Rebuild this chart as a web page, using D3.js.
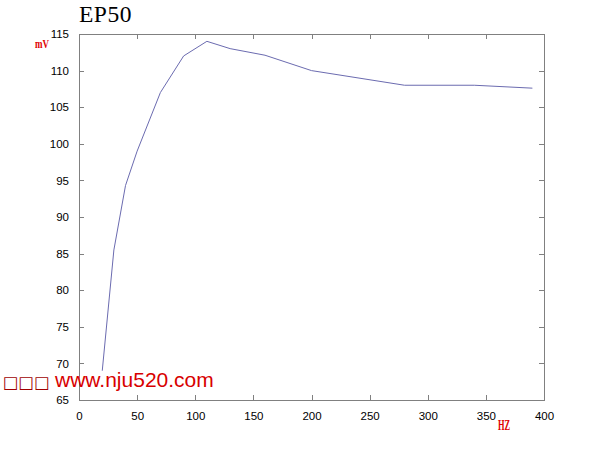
<!DOCTYPE html>
<html><head><meta charset="utf-8">
<script src="https://cdn.jsdelivr.net/npm/d3@7"></script>
<style>body{margin:0;background:#fff}svg{display:block}</style>
</head><body>
<script>
const freqs = [20,30,40,50,70,90,110,130,160,200,280,340,390];
const mv = [69,85.5,94.3,99,107,112,114,113,112.1,110,108,108,107.6];
const xTicks = [0,50,100,150,200,250,300,350,400];
const yTicks = [65,70,75,80,85,90,95,100,105,110,115];

const W=601,H=450;
const svg=d3.select("body").append("svg").attr("width",W).attr("height",H);
const x=d3.scaleLinear().domain([0,400]).range([79,544]);
const y=d3.scaleLinear().domain([65,115]).range([400,34]);
const axCol="#808080";

// frame
svg.append("rect").attr("x",79).attr("y",34).attr("width",465).attr("height",366)
  .attr("fill","none").attr("stroke",axCol).attr("stroke-width",1).attr("shape-rendering","crispEdges");

const tk=5;
const gB=svg.append("g").attr("transform","translate(0,400)")
  .call(d3.axisBottom(x).tickValues(xTicks).tickSize(-tk).tickPadding(7+tk).tickFormat(d3.format("d")));
const gT=svg.append("g").attr("transform","translate(0,34)")
  .call(d3.axisTop(x).tickValues(xTicks).tickSize(-tk).tickFormat(""));
const gL=svg.append("g").attr("transform","translate(79,0)")
  .call(d3.axisLeft(y).tickValues(yTicks).tickSize(-tk).tickPadding(5+tk).tickFormat(d3.format("d")));
const gR=svg.append("g").attr("transform","translate(544,0)")
  .call(d3.axisRight(y).tickValues(yTicks).tickSize(-tk).tickFormat(""));
[gB,gT,gL,gR].forEach(g=>{
  g.select(".domain").remove();
  g.selectAll("line").attr("stroke",axCol).attr("shape-rendering","crispEdges");
  g.selectAll("text").attr("fill","#000").style("font-family","'Liberation Sans',Arial,sans-serif").style("font-size","11.5px");
});

// line
svg.append("path").datum(freqs.map((f,i)=>[f,mv[i]]))
  .attr("d",d3.line().x(d=>x(d[0])).y(d=>y(d[1])))
  .attr("fill","none").attr("stroke","#6b6bb0").attr("stroke-width",1);

// title
svg.append("text").attr("x",79).attr("y",22).text("EP50")
  .style("font-family","'Liberation Serif','Times New Roman',serif").style("font-size","23.5px").style("letter-spacing","0.5px").attr("fill","#000");

// axis labels
svg.append("text").attr("transform","translate(35,48) scale(0.75,1)").text("mV")
  .style("font-family","'Liberation Serif',serif").style("font-weight","bold").style("font-size","12px").attr("fill","#e00000");
svg.append("text").attr("transform","translate(498,430) scale(0.6,1)").text("HZ")
  .style("font-family","'Liberation Serif',serif").style("font-weight","bold").style("font-size","14px").attr("fill","#e00000");

// watermark
svg.append("text").attr("x",3).attr("y",388).text("□□□")
  .style("font-family","'DejaVu Sans',sans-serif").style("font-size","16.5px").attr("fill","#a00000");
svg.append("text").attr("x",55).attr("y",387).text("www.nju520.com")
  .style("font-family","'Liberation Sans',Arial,sans-serif").style("font-size","21px").attr("fill","#d80000");
</script>
</body></html>
